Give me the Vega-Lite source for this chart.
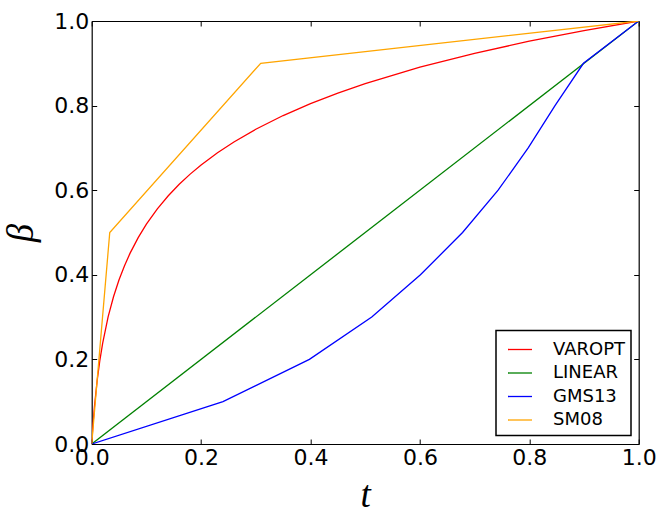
{
  "$schema": "https://vega.github.io/schema/vega-lite/v6.json",
  "width": 547,
  "height": 423,
  "autosize": {"type": "none"},
  "padding": {"left": 91.7, "top": 21, "right": 26.3, "bottom": 80},
  "background": "white",
  "config": {
    "view": {"stroke": null},
    "axis": {
      "grid": false,
      "domainColor": "black",
      "domainWidth": 1.2,
      "tickColor": "black",
      "tickWidth": 1,
      "tickSize": -5,
      "labelPadding": 8,
      "labelFont": "DejaVu Sans",
      "labelFontSize": 22,
      "labelColor": "black",
      "labelFlush": false,
      "labelOverlap": false,
      "labelBound": false,
      "titleFont": "Liberation Serif",
      "titleFontStyle": "italic",
      "titleFontWeight": "normal",
      "titleFontSize": 37,
      "titleColor": "black"
    }
  },
  "data": {
    "values": [
      {"s": "VAROPT", "t": 0, "b": 0},
      {"s": "VAROPT", "t": 0.0025, "b": 0.0484},
      {"s": "VAROPT", "t": 0.005, "b": 0.0879},
      {"s": "VAROPT", "t": 0.01, "b": 0.1502},
      {"s": "VAROPT", "t": 0.015, "b": 0.1985},
      {"s": "VAROPT", "t": 0.02, "b": 0.238},
      {"s": "VAROPT", "t": 0.03, "b": 0.3004},
      {"s": "VAROPT", "t": 0.04, "b": 0.3487},
      {"s": "VAROPT", "t": 0.05, "b": 0.3882},
      {"s": "VAROPT", "t": 0.06, "b": 0.4216},
      {"s": "VAROPT", "t": 0.07, "b": 0.4506},
      {"s": "VAROPT", "t": 0.085, "b": 0.4878},
      {"s": "VAROPT", "t": 0.1, "b": 0.5196},
      {"s": "VAROPT", "t": 0.12, "b": 0.5558},
      {"s": "VAROPT", "t": 0.14, "b": 0.5868},
      {"s": "VAROPT", "t": 0.16, "b": 0.6139},
      {"s": "VAROPT", "t": 0.18, "b": 0.638},
      {"s": "VAROPT", "t": 0.2, "b": 0.6597},
      {"s": "VAROPT", "t": 0.23, "b": 0.6886},
      {"s": "VAROPT", "t": 0.26, "b": 0.7141},
      {"s": "VAROPT", "t": 0.3, "b": 0.7441},
      {"s": "VAROPT", "t": 0.35, "b": 0.7765},
      {"s": "VAROPT", "t": 0.4, "b": 0.8047},
      {"s": "VAROPT", "t": 0.45, "b": 0.8296},
      {"s": "VAROPT", "t": 0.5, "b": 0.8519},
      {"s": "VAROPT", "t": 0.6, "b": 0.8907},
      {"s": "VAROPT", "t": 0.7, "b": 0.9236},
      {"s": "VAROPT", "t": 0.8, "b": 0.9522},
      {"s": "VAROPT", "t": 0.9, "b": 0.9774},
      {"s": "VAROPT", "t": 1, "b": 1},
      {"s": "LINEAR", "t": 0, "b": 0},
      {"s": "LINEAR", "t": 1, "b": 1},
      {"s": "GMS13", "t": 0, "b": 0},
      {"s": "GMS13", "t": 0.24, "b": 0.1},
      {"s": "GMS13", "t": 0.398, "b": 0.2},
      {"s": "GMS13", "t": 0.512, "b": 0.3},
      {"s": "GMS13", "t": 0.601, "b": 0.4},
      {"s": "GMS13", "t": 0.678, "b": 0.5},
      {"s": "GMS13", "t": 0.743, "b": 0.6},
      {"s": "GMS13", "t": 0.798, "b": 0.7},
      {"s": "GMS13", "t": 0.847, "b": 0.8},
      {"s": "GMS13", "t": 0.899, "b": 0.9},
      {"s": "GMS13", "t": 1, "b": 1},
      {"s": "SM08", "t": 0, "b": 0},
      {"s": "SM08", "t": 0.033, "b": 0.5},
      {"s": "SM08", "t": 0.309, "b": 0.9},
      {"s": "SM08", "t": 1, "b": 1}
    ]
  },
  "layer": [
    {
      "mark": {"type": "line", "strokeWidth": 1.3, "clip": true},
      "encoding": {
        "x": {
          "field": "t", "type": "quantitative",
          "scale": {"domain": [0, 1], "nice": false},
          "axis": {
            "orient": "bottom",
            "values": [0, 0.2, 0.4, 0.6, 0.8, 1],
            "format": ".1f",
            "title": "t",
            "titleX": 273.5,
            "titleY": 62,
            "titleAlign": "center",
            "titleBaseline": "alphabetic"
          }
        },
        "y": {
          "field": "b", "type": "quantitative",
          "scale": {"domain": [0, 1], "nice": false},
          "axis": {
            "orient": "left",
            "values": [0, 0.2, 0.4, 0.6, 0.8, 1],
            "format": ".1f",
            "title": "β",
            "titleX": -70,
            "titleY": 211.5,
            "titleAngle": 270,
            "titleAlign": "center",
            "titleBaseline": "middle"
          }
        },
        "color": {
          "field": "s", "type": "nominal",
          "scale": {
            "domain": ["VAROPT", "LINEAR", "GMS13", "SM08"],
            "range": ["#ff0000", "#008000", "#0000ff", "#ffa500"]
          },
          "legend": {
            "orient": "none",
            "legendX": 404.3,
            "legendY": 309.5,
            "title": null,
            "symbolType": "stroke",
            "symbolSize": 576,
            "symbolStrokeWidth": 1.3,
            "symbolOffset": 5,
            "labelFont": "DejaVu Sans",
            "labelFontSize": 18,
            "labelColor": "black",
            "labelOffset": 20,
            "padding": 6,
            "rowPadding": 1.5,
            "strokeColor": "black",
            "fillColor": "white",
            "cornerRadius": 0,
            "encode": {"legend": {"update": {"strokeWidth": {"value": 1.5}}}}
          }
        }
      }
    },
    {
      "mark": {"type": "point", "opacity": 0},
      "encoding": {
        "x": {
          "field": "t", "type": "quantitative",
          "axis": {"orient": "top", "values": [0, 0.2, 0.4, 0.6, 0.8, 1], "labels": false, "title": null}
        },
        "y": {
          "field": "b", "type": "quantitative",
          "axis": {"orient": "right", "values": [0, 0.2, 0.4, 0.6, 0.8, 1], "labels": false, "title": null}
        }
      }
    }
  ],
  "resolve": {"axis": {"x": "independent", "y": "independent"}}
}
